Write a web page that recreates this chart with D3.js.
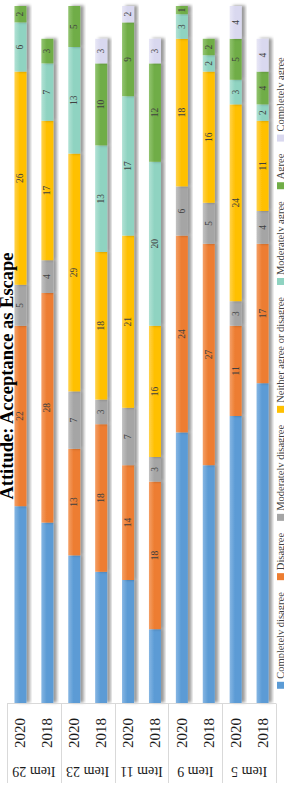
<!DOCTYPE html>
<html>
<head>
<meta charset="utf-8">
<script src="https://cdn.jsdelivr.net/npm/d3@7"></script>
<style>
  html, body { margin: 0; padding: 0; background: #fff; }
  svg { display: block; }
</style>
</head>
<body>
<svg id="chart" width="284" height="787"></svg>
<script>
// ---------- DATA ----------
const title = "Attitude: Acceptance as Escape";
const items = ["Item 29", "Item 23", "Item 11", "Item 9", "Item 5"];
const years = ["2020", "2018"];
const seriesNames = ["Completely disagree", "Disagree", "Moderately disagree",
  "Neither agree or disagree", "Moderately agree", "Agree", "Completely agree"];
// order of bars: Item29-2020, Item29-2018, Item23-2020, Item23-2018, ...
const completelyDisagree = [24, 22, 18, 16, 15, 9, 33, 29, 35, 39];
const disagree           = [22, 28, 13, 18, 14, 18, 24, 27, 11, 17];
const moderatelyDisagree = [5, 4, 7, 3, 7, 3, 6, 5, 3, 4];
const neither            = [26, 17, 29, 18, 21, 16, 18, 16, 24, 11];
const moderatelyAgree    = [6, 7, 13, 13, 17, 20, 3, 2, 3, 2];
const agree              = [2, 3, 5, 10, 9, 12, 1, 2, 5, 4];
const completelyAgree    = [0, 0, 0, 3, 2, 3, 0, 0, 4, 4];
const colors = ["#5b9bd5", "#ed7d31", "#a5a5a5", "#ffc000", "#8fd3c1", "#70ad47", "#d9d8ef"];
const lightColors = ["#86b6e3", "#f49f66", "#c2c2c2", "#ffd24d", "#b2e2d5", "#92c470", "#e8e7f6"];

// ---------- BUILD ----------
const seriesValues = [completelyDisagree, disagree, moderatelyDisagree, neither, moderatelyAgree, agree, completelyAgree];
const rows = [];
items.forEach((it, i) => years.forEach((yr, j) => {
  const idx = i * 2 + j;
  const r = { key: it + "|" + yr, item: it, year: yr };
  seriesNames.forEach((s, k) => r[s] = seriesValues[k][idx]);
  rows.push(r);
}));
const stacked = d3.stack().keys(seriesNames)(rows);

const svg = d3.select("#chart");
const defs = svg.append("defs");
const filt = defs.append("filter").attr("id", "shadow")
  .attr("x", "-20%").attr("y", "-20%").attr("width", "150%").attr("height", "160%");
filt.append("feDropShadow").attr("dx", 0.5).attr("dy", 3.5)
  .attr("stdDeviation", 1.6).attr("flood-color", "#000").attr("flood-opacity", 0.4);
colors.forEach((c, i) => {
  const g = defs.append("linearGradient").attr("id", "grad" + i)
    .attr("x1", 0).attr("y1", 0).attr("x2", 0).attr("y2", 1);
  g.append("stop").attr("offset", "0%").attr("stop-color", lightColors[i]);
  g.append("stop").attr("offset", "45%").attr("stop-color", c);
  g.append("stop").attr("offset", "100%").attr("stop-color", c);
});

// the chart is drawn in an unrotated 787x284 frame, then turned a quarter left
const root = svg.append("g").attr("transform", `translate(0,${787}) rotate(-90)`);

const x = d3.scaleLinear().domain([0, 85]).range([84, 781]);
const y = d3.scaleBand().domain(rows.map(d => d.key)).range([7, 276])
  .paddingInner(0.554).paddingOuter(0.277);
const yItem = d3.scaleBand().domain(items).range([7, 276]);

// bars
const layers = root.append("g").selectAll("g").data(stacked).join("g")
  .attr("fill", (d, i) => `url(#grad${i})`);
layers.selectAll("rect").data(d => d.filter(p => p[1] - p[0] > 0)).join("rect")
  .attr("x", d => x(d[0]))
  .attr("width", d => x(d[1]) - x(d[0]))
  .attr("y", d => y(d.data.key))
  .attr("height", y.bandwidth())
  .attr("filter", "url(#shadow)");

// data labels (not on blue series)
const lbl = root.append("g").attr("font-family", "'Liberation Serif', 'Times New Roman', serif")
  .attr("font-size", 9.5).attr("fill", "#404040").attr("text-anchor", "middle");
stacked.forEach((layer, i) => {
  if (i === 0) return;
  layer.forEach(p => {
    const v = p[1] - p[0];
    if (v <= 0) return;
    lbl.append("text")
      .attr("x", (x(p[0]) + x(p[1])) / 2)
      .attr("y", y(p.data.key) + y.bandwidth() / 2)
      .attr("dominant-baseline", "central")
      .text(v);
  });
});

// category axis box
const axisG = root.append("g").attr("stroke", "#d9d9d9").attr("stroke-width", 1);
axisG.append("line").attr("x1", 83.5).attr("x2", 83.5).attr("y1", 7).attr("y2", 276);
[7, ...items.map(it => yItem(it) + yItem.bandwidth())].forEach(v => {
  axisG.append("line").attr("x1", 4).attr("x2", 83.5).attr("y1", Math.round(v) + 0.5).attr("y2", Math.round(v) + 0.5);
});

const axText = root.append("g").attr("font-family", "'Liberation Serif', 'Times New Roman', serif").attr("fill", "#1a1a1a");
axText.selectAll("text.yr").data(rows).join("text").attr("class", "yr")
  .attr("x", 54).attr("y", d => y(d.key) + y.bandwidth() / 2)
  .attr("text-anchor", "middle").attr("dominant-baseline", "central")
  .attr("font-size", 15).text(d => d.year);
axText.selectAll("text.it").data(items).join("text").attr("class", "it")
  .attr("transform", d => `translate(16,${yItem(d) + yItem.bandwidth() / 2}) rotate(-90)`)
  .attr("text-anchor", "middle").attr("dominant-baseline", "central")
  .attr("font-size", 14).text(d => d);

// title
root.append("text").attr("x", 411).attr("y", 13)
  .attr("text-anchor", "middle")
  .attr("font-family", "'Liberation Serif', 'Times New Roman', serif")
  .attr("font-weight", "bold").attr("font-size", 18.5).attr("fill", "#000")
  .text(title);

// legend
const leg = root.append("g").attr("font-family", "'Liberation Serif', 'Times New Roman', serif")
  .attr("font-size", 10.5).attr("fill", "#404040");
const items2 = seriesNames.map((s, i) => {
  const g = leg.append("g");
  g.append("rect").attr("x", 0).attr("y", -3.5).attr("width", 7).attr("height", 7).attr("fill", colors[i]);
  const t = g.append("text").attr("x", 10).attr("y", 0).attr("dominant-baseline", "central").text(s);
  return { g, w: 10 + t.node().getComputedTextLength() };
});
const gap = 12;
const total = d3.sum(items2, d => d.w) + gap * (items2.length - 1);
let cx = 414 - total / 2;
items2.forEach(d => { d.g.attr("transform", `translate(${cx},280.5)`); cx += d.w + gap; });
</script>
</body>
</html>
